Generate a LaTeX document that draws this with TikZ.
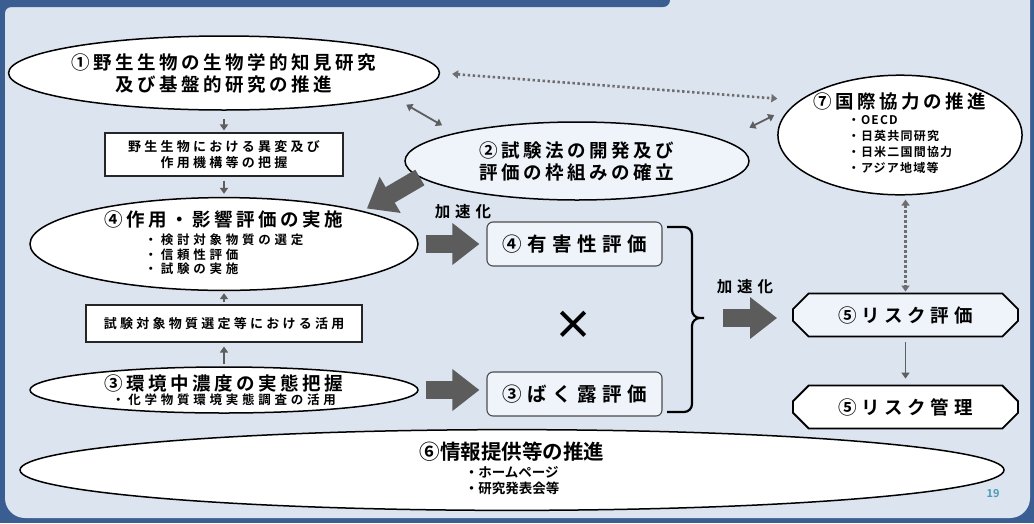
\documentclass[tikz,border=0pt]{standalone}
\usepackage{fontspec}
\setmainfont{Noto Sans CJK JP}[BoldFont={Noto Sans CJK JP Bold}]
\usetikzlibrary{arrows.meta,shapes.geometric,shapes.misc,positioning}

\definecolor{frameblue}{HTML}{3B5E92}
\definecolor{panelbg}{HTML}{DCE4F0}
\definecolor{paletint}{HTML}{EFF4FA}
\definecolor{arrowgray}{HTML}{5E5E5E}
\definecolor{blockgray}{HTML}{5C5C5C}
\definecolor{dotgray}{HTML}{6E6E6E}
\definecolor{pagenum}{HTML}{4C9BB4}

\newcommand\headfont{\bfseries\fontsize{18.5}{22}\selectfont\addfontfeature{LetterSpace=19}}
\newcommand\notefont{\bfseries\fontsize{13}{16}\selectfont\addfontfeature{LetterSpace=25}}
\newcommand\bulletfont{\bfseries\fontsize{12.5}{11.8}\selectfont\addfontfeature{LetterSpace=30}}
\newcommand\intlfont{\fontsize{12}{16}\selectfont\addfontfeature{LetterSpace=10}}
\newcommand\evalfont{\bfseries\fontsize{19.5}{22}\selectfont\addfontfeature{LetterSpace=28}}
\newcommand\riskfont{\bfseries\fontsize{18.5}{22}\selectfont\addfontfeature{LetterSpace=25}}
\newcommand\speedfont{\bfseries\fontsize{15.5}{18}\selectfont\addfontfeature{LetterSpace=32}}
\newcommand\infofont{\bfseries\fontsize{20.5}{22}\selectfont}
\newcommand\infolistfont{\bfseries\fontsize{13.5}{16.5}\selectfont}

\tikzset{
  oval/.style={ellipse, draw=black, line width=1.5pt, fill=white, inner sep=0pt, align=center},
  notebox/.style={rectangle, draw=black!85, line width=1.1pt, fill=white, align=center, font=\notefont},
  evalbox/.style={rectangle, rounded corners=6pt, draw=black!70, line width=1.1pt, fill=paletint,
    minimum width=175pt, minimum height=44pt, font=\evalfont},
  riskbox/.style={chamfered rectangle, chamfered rectangle xsep=13pt, draw=black, line width=1.8pt,
    minimum width=225pt, minimum height=43pt, font=\riskfont},
  speed/.style={font=\speedfont},
  thinarrow/.style={draw=arrowgray, line width=1.8pt, -{Triangle[length=6pt,width=8pt]}},
  twoway/.style={draw=arrowgray, line width=1.8pt,
    {Triangle[length=6pt,width=8pt]}-{Triangle[length=6pt,width=8pt]}},
  dotway/.style={draw=dotgray, line width=2.6pt, dash pattern=on 2.4pt off 2.6pt,
    {Triangle[length=6pt,width=8pt]}-{Triangle[length=6pt,width=8pt]}},
  bigarrow/.style={draw=blockgray, line width=18pt, -{Triangle[length=27pt,width=40pt]}},
}

\begin{document}
\begin{tikzpicture}[x=1pt, y=-1pt]
  % Panel
  \useasboundingbox (0,0) rectangle (1034,523);
  \fill[frameblue] (0,0) rectangle (1034,523);
  \fill[panelbg, rounded corners=20pt] (5,-30) -- (5,518) -- (1030,518) -- (1030,-30) -- cycle;
  \fill[frameblue, rounded corners=7pt] (-10,-20) -- (670,-20) -- (670,7) -- (-10,7) -- cycle;
  \fill[frameblue] (5,7) -- (11,7) arc[start angle=270, end angle=180, radius=6] -- cycle;

  % Left column
  \node[oval, minimum width=388pt, minimum height=74pt, font=\headfont] (bio) at (224,73)
    {①野生生物の生物学的知見研究\\及び基盤的研究の推進};
  \node[notebox, minimum width=238pt, minimum height=43pt] (finding) at (224,154.5)
    {野生生物における異変及び\\作用機構等の把握};
  \node[oval, minimum width=388pt, minimum height=88pt, font=\headfont] (effect) at (224,244)
    {④作用・影響評価の実施\\[-4pt]{\bulletfont\begin{tabular}[t]{@{}l@{}}・検討対象物質の選定\\・信頼性評価\\・試験の実施\end{tabular}}};
  \node[notebox, minimum width=276pt, minimum height=37pt] (usage) at (224,323.5)
    {試験対象物質選定等における活用};
  \node[oval, minimum width=388pt, minimum height=46pt, font=\headfont] (conc) at (224,390)
    {③環境中濃度の実態把握\\[-8pt]{\bulletfont ・化学物質環境実態調査の活用}};

  % Middle
  \node[oval, fill=paletint, minimum width=344pt, minimum height=78pt, font=\headfont] (test) at (577,161)
    {②試験法の開発及び\\評価の枠組みの確立};
  \node[speed] (speed1) at (463,212) {加速化};
  \node[evalbox] (tox) at (574.5,244) {④有害性評価};
  \node[evalbox] (expo) at (574.5,394) {③ばく露評価};
  \node[font=\bfseries\fontsize{40}{40}\selectfont] (times) at (573,325) {×};
  \node[speed] (speed2) at (745,287) {加速化};

  % Right column
  \node[oval, minimum width=208pt, minimum height=112pt, font=\headfont] (intl) at (900,135)
    {⑦国際協力の推進\\[-6pt]{\intlfont\begin{tabular}[t]{@{}l@{}}・OECD\\・日英共同研究\\・日米二国間協力\\・アジア地域等\end{tabular}}};
  \node[riskbox, fill=paletint] (riskeval) at (905.5,315) {⑤リスク評価};
  \node[riskbox, fill=white] (riskmgmt) at (905.5,407) {⑤リスク管理};

  % Bottom
  \node[oval, minimum width=984pt, minimum height=70pt, font=\infofont] (info) at (512,470)
    {⑥情報提供等の推進\\[-4pt]{\infolistfont\begin{tabular}[t]{@{}l@{}}・ホームページ\\・研究発表会等\end{tabular}}};
  \node[font=\bfseries\fontsize{11}{12}\selectfont, text=pagenum] (pageno) at (993,494) {19};

  % Brace
  \coordinate (bracetip) at (704,318);
  \draw[line width=2.2pt, rounded corners=8pt]
    (667,227) -- (692,227) -- (692,318) -- (bracetip)
    (667,412) -- (692,412) -- (692,318) -- (bracetip);

  % Connectors
  \draw[thinarrow, shorten <=8pt, shorten >=2pt] (bio.south) -- (finding.north);
  \draw[thinarrow, shorten <=4pt, shorten >=3pt] (finding.south) -- (effect.north);
  \draw[thinarrow, shorten <=2pt, shorten >=2pt] (usage.north) -- (effect.south);
  \draw[thinarrow, shorten <=2pt, shorten >=4pt] (conc.north) -- (usage.south);
  \draw[thinarrow, shorten <=5pt, shorten >=6pt] (riskeval.south) -- (riskmgmt.north);
  \draw[twoway, shorten <=16pt, shorten >=15pt] (bio.-8.7) -- (test.167.5);
  \draw[twoway, shorten <=28pt, shorten >=20pt] (test.8) -- (intl.165);
  \draw[dotway, shorten <=12pt, shorten >=22pt] (bio.east) -- (intl.161);
  \draw[dotway, shorten <=4pt, shorten >=1pt] (intl.south -| riskeval.north) -- (riskeval.north);
  \draw[bigarrow] (test.186) -- ++(-53,31);
  \draw[bigarrow, shorten <=7pt, shorten >=7pt] (effect.east) -- (effect.east -| tox.west);
  \draw[bigarrow, shorten <=7pt, shorten >=7pt] (conc.east) -- (conc.east -| expo.west);
  \draw[bigarrow, shorten <=19pt, shorten >=15pt] (bracetip) -- (bracetip -| riskeval.west);
\end{tikzpicture}
\end{document}
